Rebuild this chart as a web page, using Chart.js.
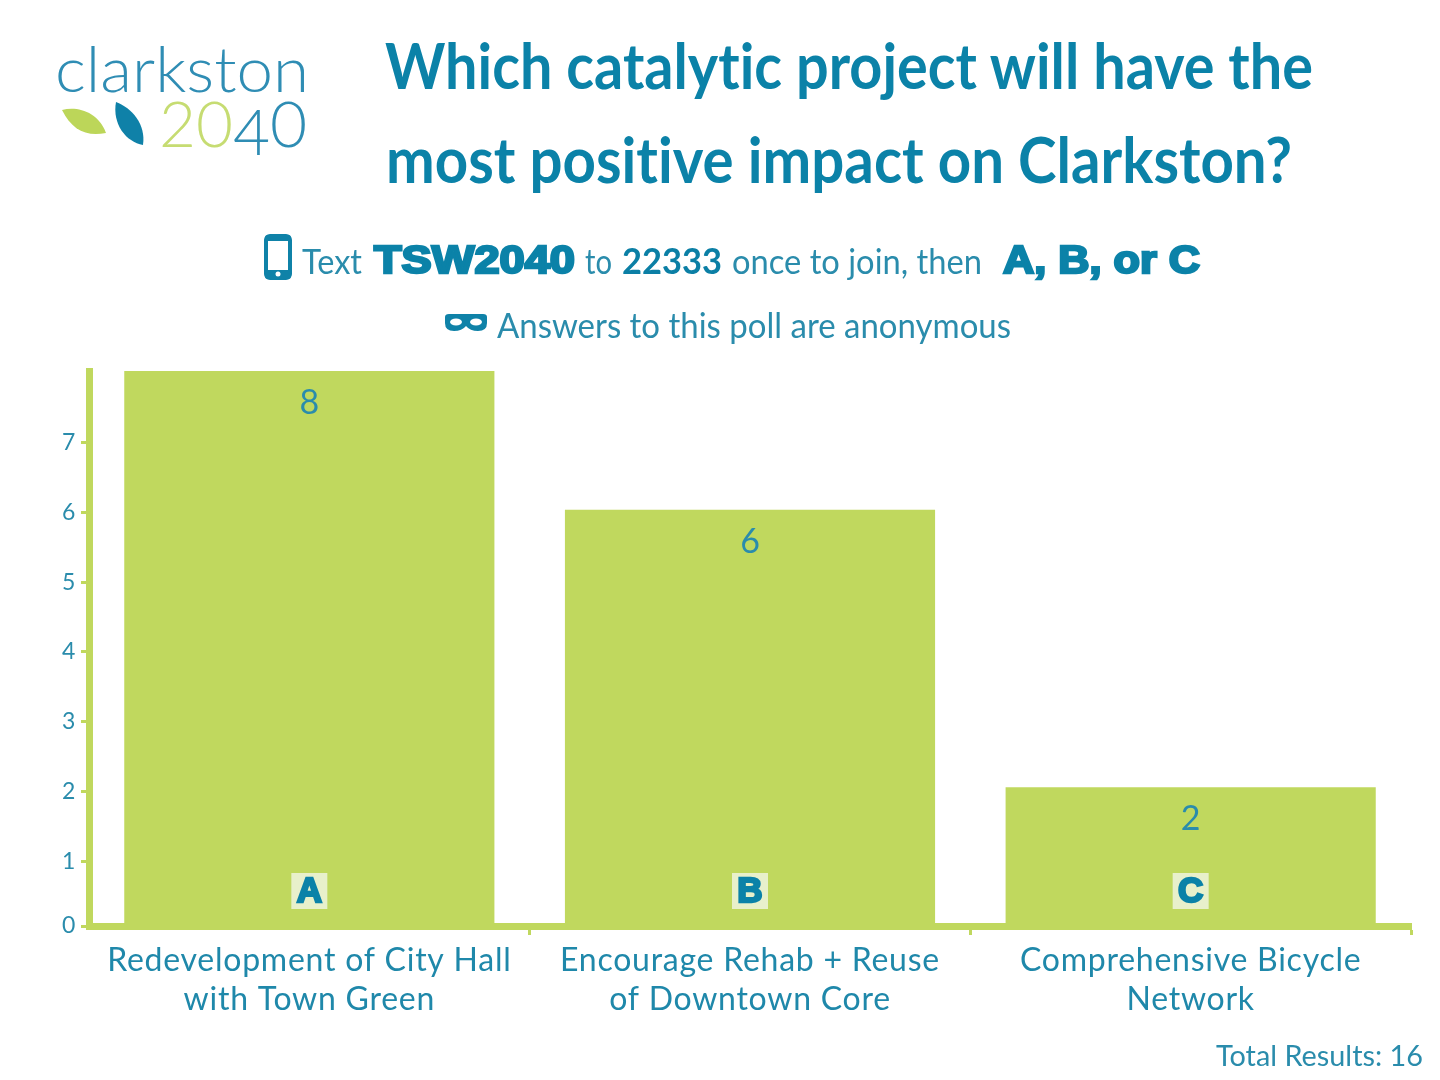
<!DOCTYPE html>
<html lang="en">
<head>
  <meta charset="UTF-8" />
  <title>Which catalytic project will have the most positive impact on Clarkston?</title>
  <script src="https://cdn.jsdelivr.net/npm/chart.js"></script>
  <style>
    body { margin: 0; background: #fff; width: 1440px; height: 1080px; overflow: hidden; position: relative; }
    canvas { position: absolute; left: 0; top: 0; }
    svg { position: absolute; left: 0; top: 0; }
    text { font-family: Lato, sans-serif; fill: #1486a9; font-variant-ligatures: none; }
    .title { font-size: 64px; font-weight: 700; fill: #0b82a8; }
    .sub { font-size: 35px; fill: #2a8cac; }
    .strong { font-size: 37px; font-weight: 700; fill: #0b7fa5; }
    .heavy { font-family: "Liberation Sans", sans-serif; font-size: 38px; font-weight: 700; fill: #0b82a8; stroke: #0b82a8; stroke-width: 2.4px; }
    .logo { font-weight: 300; font-size: 64px; fill: #2f8db4; }
    .green { fill: #c6dc72; }
  </style>
</head>
<body>
  <canvas id="pollChart" width="1440" height="1080"></canvas>
  <svg width="1440" height="1080" viewBox="0 0 1440 1080">
    <text class="logo" x="55" y="92" textLength="254" lengthAdjust="spacingAndGlyphs">clarkston</text>
    <text class="logo green" x="159" y="147" textLength="74" lengthAdjust="spacingAndGlyphs">20</text>
    <text class="logo" x="233" y="155">4</text>
    <text class="logo" x="270" y="147">0</text>
    <path d="M62 110 C78 106 98 112 106 133 C86 137 72 130 62 110Z" fill="#bcd659" />
    <path d="M116 102 C132 108 146 124 143 145 C126 142 112 124 116 102Z" fill="#0f81a8" />

    <text class="title" x="385" y="89" textLength="928" lengthAdjust="spacingAndGlyphs">Which catalytic project will have the</text>
    <text class="title" x="386" y="183" textLength="906" lengthAdjust="spacingAndGlyphs">most positive impact on Clarkston?</text>

    <rect x="266" y="236" width="24" height="42" rx="4" fill="#fff" stroke="#0f82a8" stroke-width="4" />
    <rect x="265" y="235" width="26" height="6" rx="3" fill="#0f82a8" />
    <rect x="265" y="270" width="26" height="9" rx="3" fill="#0f82a8" />
    <circle cx="278" cy="274" r="2.5" fill="#fff" />
    <text class="sub" x="302" y="274" textLength="60" lengthAdjust="spacingAndGlyphs">Text</text>
    <text class="heavy" x="374" y="273" textLength="201" lengthAdjust="spacingAndGlyphs">TSW2040</text>
    <text class="sub" x="585" y="274" textLength="27" lengthAdjust="spacingAndGlyphs">to</text>
    <text class="strong" x="622" y="274" textLength="100" lengthAdjust="spacingAndGlyphs">22333</text>
    <text class="sub" x="732" y="274" textLength="250" lengthAdjust="spacingAndGlyphs">once to join, then</text>
    <text class="heavy" x="1003" y="273" textLength="197" lengthAdjust="spacingAndGlyphs">A, B, or C</text>

    <path d="M445 317 Q445 314 449 314 L483 314 Q487 314 487 317 L487 323 Q487 331 478 331 Q470 331 466 326 Q462 331 454 331 Q445 331 445 323Z" fill="#0f82a8" />
    <ellipse cx="456" cy="322" rx="6" ry="3.5" fill="#fff" />
    <ellipse cx="476" cy="322" rx="6" ry="3.5" fill="#fff" />
    <text class="sub" x="497" y="338" textLength="514" lengthAdjust="spacingAndGlyphs">Answers to this poll are anonymous</text>

    <text id="totalText" x="1216" y="1066" textLength="207" lengthAdjust="spacingAndGlyphs" style="font-size:28px;fill:#2a8cac"></text>
  </svg>

  <script>
    const categories = [
      ["Redevelopment of City Hall", "with Town Green"],
      ["Encourage Rehab + Reuse", "of Downtown Core"],
      ["Comprehensive Bicycle", "Network"]
    ];
    const votes = [8, 6, 2];
    const answerLetters = ["A", "B", "C"];
    const tickLabels = [0, 1, 2, 3, 4, 5, 6, 7];

    const green = "#c0d85e";
    const blue = "#2a8cac";

    document.getElementById("totalText").textContent =
      "Total Results: " + votes.reduce((a, b) => a + b, 0);

    // value and answer letter on each bar
    const barLabels = {
      id: "barLabels",
      beforeDraw(chart) {
        // axis labels in the reference are set wide
        chart.ctx.letterSpacing = "0.75px";
      },
      afterDatasetsDraw(chart) {
        const ctx = chart.ctx;
        const bottom = chart.scales.y.getPixelForValue(0);
        ctx.save();
        ctx.letterSpacing = "0px";
        ctx.textAlign = "center";
        ctx.textBaseline = "middle";
        chart.getDatasetMeta(0).data.forEach((bar, i) => {
          ctx.font = "34px Lato, sans-serif";
          ctx.fillStyle = blue;
          ctx.fillText(votes[i], bar.x, bar.y + 32);

          ctx.fillStyle = "#e8f0cb";
          ctx.fillRect(bar.x - 18, bottom - 53, 36, 36);
          ctx.font = "bold 35px 'Liberation Sans', sans-serif";
          ctx.fillStyle = "#0b82a8";
          ctx.strokeStyle = "#0b82a8";
          ctx.lineWidth = 2.4;
          ctx.strokeText(answerLetters[i], bar.x, bottom - 34);
          ctx.fillText(answerLetters[i], bar.x, bottom - 34);
        });
        ctx.restore();
      }
    };

    new Chart(document.getElementById("pollChart").getContext("2d"), {
      type: "bar",
      data: {
        labels: categories,
        datasets: [{
          data: votes,
          yAxisID: "y",
          backgroundColor: green,
          barPercentage: 0.84,
          categoryPercentage: 1
        }]
      },
      options: {
        responsive: false,
        animation: false,
        layout: { padding: { top: 371, right: 29 } },
        plugins: { legend: { display: false }, tooltip: { enabled: false } },
        scales: {
          x: {
            afterFit(scale) { scale.height = 154; },
            border: { color: green, width: 7 },
            grid: {
              offset: true,
              drawOnChartArea: false,
              tickLength: 9,
              tickWidth: 3,
              tickColor: ctx => ctx.index === 0 ? "rgba(0,0,0,0)" : green
            },
            ticks: {
              color: "#1f88aa",
              padding: 6,
              maxRotation: 0,
              font: { family: "Lato, sans-serif", size: 32, lineHeight: 1.22 }
            }
          },
          y: { display: false, min: 0, max: 8 },
          // the printed ticks run a little wider than the bars' scale
          yTicks: {
            position: "left",
            min: 0.07,
            max: 8.03,
            afterBuildTicks(scale) {
              scale.ticks = tickLabels.map(v => ({ value: v === 0 ? scale.min : v }));
            },
            afterFit(scale) { scale.width = 89; },
            border: { color: green, width: 7 },
            grid: { drawOnChartArea: false, tickLength: 8, tickWidth: 3, tickColor: green },
            ticks: {
              color: blue,
              padding: 5,
              font: { family: "Lato, sans-serif", size: 23 },
              callback: v => Math.round(v)
            }
          }
        }
      },
      plugins: [barLabels]
    });
  </script>
</body>
</html>
